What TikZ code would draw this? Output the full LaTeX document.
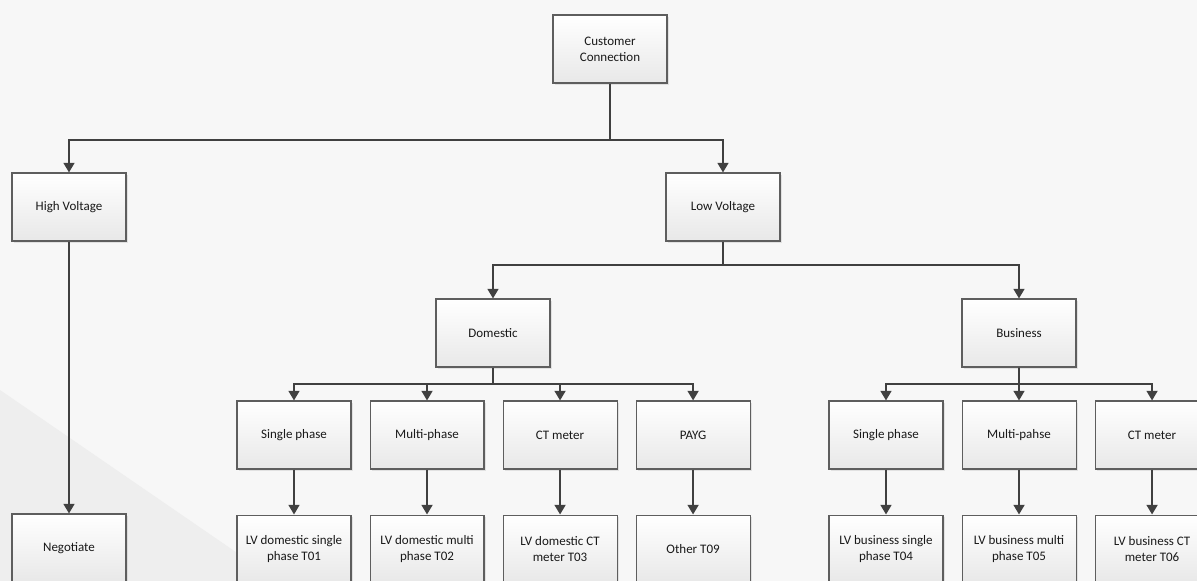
\documentclass[tikz,border=0pt]{standalone}
\usepackage{fontspec}
\setmainfont{Carlito}
\usepackage{tikz}
\usetikzlibrary{arrows.meta, positioning, shadows}
\definecolor{linegray}{HTML}{404040}
\definecolor{boxborder}{HTML}{5E5E5E}
\definecolor{boxbottom}{HTML}{E8E8E8}
\definecolor{bglight}{HTML}{F7F7F7}
\definecolor{bgdark}{HTML}{EEEEEE}

\begin{document}
\begin{tikzpicture}[x=0.02cm, y=-0.02cm,
        every node/.style={draw=boxborder,
        line width=0.6pt,
        top color=white,
        bottom color=boxbottom,
        drop shadow={opacity=0.18, shadow xshift=1.2pt, shadow yshift=-1.2pt},
        text=black!90,
        font=\fontsize{7.4}{9}\selectfont,
        minimum width=2.28cm,
        minimum height=1.36cm,
        align=center},
        conn/.style={draw=linegray, line width=1.1pt},
        >={Triangle[length=5.5pt, width=6.2pt]}]
        % background
        \useasboundingbox (0,0) rectangle (1197,581);
        \fill[bglight] (0,0) rectangle (1197,581);
        \fill[bgdark] (0,390) -- (278,581) -- (0,581) -- cycle;
        % top levels
        \node (cc) at (610,49) {Customer\\Connection};
        \node (hv) at (69,207) {High Voltage};
        \node (lv) at (723,207) {Low Voltage};
        \node (dom) at (493,333) {Domestic};
        \node (bus) at (1019,333) {Business};
        \node (neg) at (69,548) {Negotiate};
        % domestic row
        \node (dsp) at (294,435) {Single phase};
        \node[right=0.36cm of dsp] (dmp) {Multi-phase};
        \node[right=0.36cm of dmp] (dct) {CT meter};
        \node[right=0.36cm of dct] (payg) {PAYG};
        \node[below=0.9cm of dsp] (t01) {LV domestic single\\phase T01};
        \node[below=0.9cm of dmp] (t02) {LV domestic multi\\phase T02};
        \node[below=0.9cm of dct] (t03) {LV domestic CT\\meter T03};
        \node[below=0.9cm of payg] (t09) {Other T09};
        % business row
        \node (bsp) at (886,435) {Single phase};
        \node[right=0.36cm of bsp] (bmp) {Multi-pahse};
        \node[right=0.36cm of bmp] (bct) {CT meter};
        \node[below=0.9cm of bsp] (t04) {LV business single\\phase T04};
        \node[below=0.9cm of bmp] (t05) {LV business multi\\phase T05};
        \node[below=0.9cm of bct] (t06) {LV business CT\\meter T06};
        % junctions
        \coordinate (j1) at (610,140);
        \coordinate (j2) at (723,265);
        \coordinate (j3) at (493,384);
        \coordinate (j4) at (1019,384);
        % connectors
        \draw[conn] (cc) -- (j1);
        \draw[conn, ->] (j1) -| (hv);
        \draw[conn, ->] (j1) -| (lv);
        \draw[conn, ->] (hv) -- (neg);
        \draw[conn] (lv) -- (j2);
        \draw[conn, ->] (j2) -| (dom);
        \draw[conn, ->] (j2) -| (bus);
        \draw[conn] (dom) -- (j3);
        \draw[conn, ->] (j3) -| (dsp);
        \draw[conn, ->] (j3) -| (dmp);
        \draw[conn, ->] (j3) -| (dct);
        \draw[conn, ->] (j3) -| (payg);
        \draw[conn, ->] (bus) -- (bmp);
        \draw[conn, ->] (j4) -| (bsp);
        \draw[conn, ->] (j4) -| (bct);
        \draw[conn, ->] (dsp) -- (t01);
        \draw[conn, ->] (dmp) -- (t02);
        \draw[conn, ->] (dct) -- (t03);
        \draw[conn, ->] (payg) -- (t09);
        \draw[conn, ->] (bsp) -- (t04);
        \draw[conn, ->] (bmp) -- (t05);
        \draw[conn, ->] (bct) -- (t06);
    \end{tikzpicture}
\end{document}
